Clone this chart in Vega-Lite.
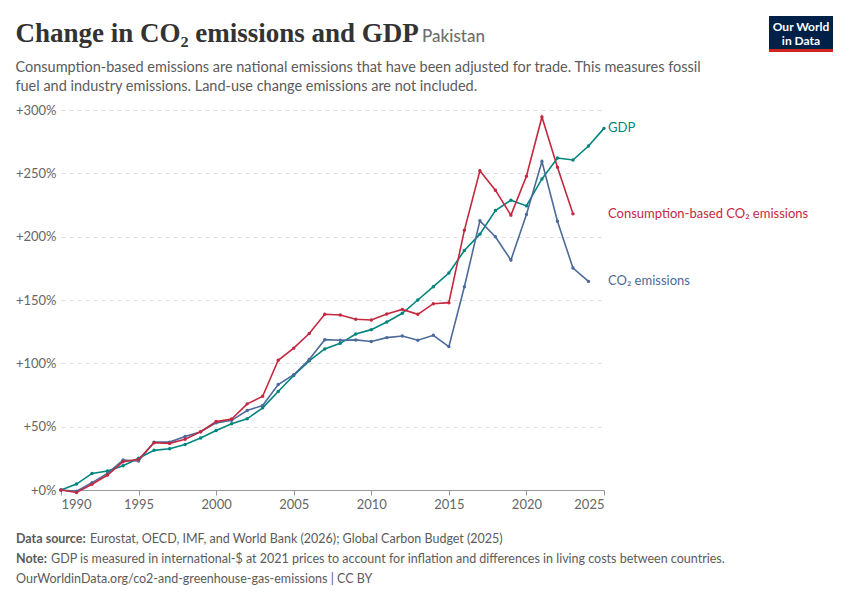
{
  "$schema": "https://vega.github.io/schema/vega-lite/v6.json",
  "width": 543,
  "height": 380,
  "autosize": "none",
  "padding": {"left": 61, "top": 110, "right": 246, "bottom": 110},
  "background": "white",
  "config": {
    "font": "Lato",
    "view": {"stroke": null}
  },
  "title": {
    "text": "Change in CO₂ emissions and GDP",
    "subtitle": [
      "Consumption-based emissions are national emissions that have been adjusted for trade. This measures fossil",
      "fuel and industry emissions. Land-use change emissions are not included."
    ],
    "anchor": "start",
    "frame": "bounds",
    "font": "Liberation Serif",
    "fontSize": 27,
    "fontWeight": "bold",
    "color": "#333333",
    "subtitleFont": "Lato",
    "subtitleFontSize": 14.5,
    "subtitleColor": "#5b5b5b",
    "subtitleLineHeight": 19,
    "subtitlePadding": 13,
    "offset": 0,
    "dy": 78
  },
  "datasets": {
    "emissions": [
      {"year": 1990, "series": "GDP", "value": 0},
      {"year": 1991, "series": "GDP", "value": 4.7},
      {"year": 1992, "series": "GDP", "value": 13.1},
      {"year": 1993, "series": "GDP", "value": 15},
      {"year": 1994, "series": "GDP", "value": 19.2},
      {"year": 1995, "series": "GDP", "value": 25},
      {"year": 1996, "series": "GDP", "value": 31.3},
      {"year": 1997, "series": "GDP", "value": 32.6},
      {"year": 1998, "series": "GDP", "value": 36},
      {"year": 1999, "series": "GDP", "value": 41},
      {"year": 2000, "series": "GDP", "value": 47},
      {"year": 2001, "series": "GDP", "value": 52.3},
      {"year": 2002, "series": "GDP", "value": 56.2},
      {"year": 2003, "series": "GDP", "value": 64.9},
      {"year": 2004, "series": "GDP", "value": 77.8},
      {"year": 2005, "series": "GDP", "value": 90.4},
      {"year": 2006, "series": "GDP", "value": 102},
      {"year": 2007, "series": "GDP", "value": 111.4},
      {"year": 2008, "series": "GDP", "value": 115.8},
      {"year": 2009, "series": "GDP", "value": 123.2},
      {"year": 2010, "series": "GDP", "value": 126.6},
      {"year": 2011, "series": "GDP", "value": 132.6},
      {"year": 2012, "series": "GDP", "value": 139.5},
      {"year": 2013, "series": "GDP", "value": 150},
      {"year": 2014, "series": "GDP", "value": 160.5},
      {"year": 2015, "series": "GDP", "value": 171.3},
      {"year": 2016, "series": "GDP", "value": 189.1},
      {"year": 2017, "series": "GDP", "value": 202},
      {"year": 2018, "series": "GDP", "value": 220.6},
      {"year": 2019, "series": "GDP", "value": 228.8},
      {"year": 2020, "series": "GDP", "value": 224.3},
      {"year": 2021, "series": "GDP", "value": 245.6},
      {"year": 2022, "series": "GDP", "value": 262.1},
      {"year": 2023, "series": "GDP", "value": 260.5},
      {"year": 2024, "series": "GDP", "value": 271.6},
      {"year": 2025, "series": "GDP", "value": 285.5},
      {"year": 1990, "series": "CO₂ emissions", "value": 0},
      {"year": 1991, "series": "CO₂ emissions", "value": -1},
      {"year": 1992, "series": "CO₂ emissions", "value": 5.8},
      {"year": 1993, "series": "CO₂ emissions", "value": 13.1},
      {"year": 1994, "series": "CO₂ emissions", "value": 23.6},
      {"year": 1995, "series": "CO₂ emissions", "value": 22.9},
      {"year": 1996, "series": "CO₂ emissions", "value": 37.8},
      {"year": 1997, "series": "CO₂ emissions", "value": 37.8},
      {"year": 1998, "series": "CO₂ emissions", "value": 42.3},
      {"year": 1999, "series": "CO₂ emissions", "value": 46},
      {"year": 2000, "series": "CO₂ emissions", "value": 53},
      {"year": 2001, "series": "CO₂ emissions", "value": 55},
      {"year": 2002, "series": "CO₂ emissions", "value": 62.8},
      {"year": 2003, "series": "CO₂ emissions", "value": 66.7},
      {"year": 2004, "series": "CO₂ emissions", "value": 83.3},
      {"year": 2005, "series": "CO₂ emissions", "value": 91},
      {"year": 2006, "series": "CO₂ emissions", "value": 103},
      {"year": 2007, "series": "CO₂ emissions", "value": 118.7},
      {"year": 2008, "series": "CO₂ emissions", "value": 118.2},
      {"year": 2009, "series": "CO₂ emissions", "value": 118.5},
      {"year": 2010, "series": "CO₂ emissions", "value": 117.2},
      {"year": 2011, "series": "CO₂ emissions", "value": 120.3},
      {"year": 2012, "series": "CO₂ emissions", "value": 121.6},
      {"year": 2013, "series": "CO₂ emissions", "value": 118.2},
      {"year": 2014, "series": "CO₂ emissions", "value": 122.1},
      {"year": 2015, "series": "CO₂ emissions", "value": 113.2},
      {"year": 2016, "series": "CO₂ emissions", "value": 160.5},
      {"year": 2017, "series": "CO₂ emissions", "value": 212.5},
      {"year": 2018, "series": "CO₂ emissions", "value": 199.9},
      {"year": 2019, "series": "CO₂ emissions", "value": 181.5},
      {"year": 2020, "series": "CO₂ emissions", "value": 217.5},
      {"year": 2021, "series": "CO₂ emissions", "value": 259.3},
      {"year": 2022, "series": "CO₂ emissions", "value": 212.2},
      {"year": 2023, "series": "CO₂ emissions", "value": 175.2},
      {"year": 2024, "series": "CO₂ emissions", "value": 164.7},
      {"year": 1990, "series": "Consumption-based CO₂ emissions", "value": 0},
      {"year": 1991, "series": "Consumption-based CO₂ emissions", "value": -2},
      {"year": 1992, "series": "Consumption-based CO₂ emissions", "value": 4.5},
      {"year": 1993, "series": "Consumption-based CO₂ emissions", "value": 11.8},
      {"year": 1994, "series": "Consumption-based CO₂ emissions", "value": 22.3},
      {"year": 1995, "series": "Consumption-based CO₂ emissions", "value": 24.2},
      {"year": 1996, "series": "Consumption-based CO₂ emissions", "value": 37.3},
      {"year": 1997, "series": "Consumption-based CO₂ emissions", "value": 36.8},
      {"year": 1998, "series": "Consumption-based CO₂ emissions", "value": 40},
      {"year": 1999, "series": "Consumption-based CO₂ emissions", "value": 46},
      {"year": 2000, "series": "Consumption-based CO₂ emissions", "value": 54},
      {"year": 2001, "series": "Consumption-based CO₂ emissions", "value": 56},
      {"year": 2002, "series": "Consumption-based CO₂ emissions", "value": 68},
      {"year": 2003, "series": "Consumption-based CO₂ emissions", "value": 74},
      {"year": 2004, "series": "Consumption-based CO₂ emissions", "value": 102.4},
      {"year": 2005, "series": "Consumption-based CO₂ emissions", "value": 112},
      {"year": 2006, "series": "Consumption-based CO₂ emissions", "value": 123.5},
      {"year": 2007, "series": "Consumption-based CO₂ emissions", "value": 138.7},
      {"year": 2008, "series": "Consumption-based CO₂ emissions", "value": 138.2},
      {"year": 2009, "series": "Consumption-based CO₂ emissions", "value": 134.8},
      {"year": 2010, "series": "Consumption-based CO₂ emissions", "value": 134.2},
      {"year": 2011, "series": "Consumption-based CO₂ emissions", "value": 139},
      {"year": 2012, "series": "Consumption-based CO₂ emissions", "value": 142.6},
      {"year": 2013, "series": "Consumption-based CO₂ emissions", "value": 138.7},
      {"year": 2014, "series": "Consumption-based CO₂ emissions", "value": 147.1},
      {"year": 2015, "series": "Consumption-based CO₂ emissions", "value": 147.9},
      {"year": 2016, "series": "Consumption-based CO₂ emissions", "value": 205},
      {"year": 2017, "series": "Consumption-based CO₂ emissions", "value": 252},
      {"year": 2018, "series": "Consumption-based CO₂ emissions", "value": 236.7},
      {"year": 2019, "series": "Consumption-based CO₂ emissions", "value": 217},
      {"year": 2020, "series": "Consumption-based CO₂ emissions", "value": 247.7},
      {"year": 2021, "series": "Consumption-based CO₂ emissions", "value": 294.5},
      {"year": 2022, "series": "Consumption-based CO₂ emissions", "value": 254.8},
      {"year": 2023, "series": "Consumption-based CO₂ emissions", "value": 218}
    ]
  },
  "layer": [
    {
      "data": {"name": "emissions"},
      "mark": {
        "type": "line",
        "strokeWidth": 1.6,
        "point": {"filled": true, "size": 12}
      },
      "encoding": {
        "x": {
          "field": "year",
          "type": "quantitative",
          "scale": {"domain": [1990, 2025], "nice": false, "zero": false},
          "axis": {
            "title": null,
            "values": [1990, 1995, 2000, 2005, 2010, 2015, 2020, 2025],
            "format": "d",
            "grid": false,
            "domainColor": "#999999",
            "tickColor": "#999999",
            "tickSize": 5,
            "labelColor": "#666666",
            "labelFontSize": 13,
            "labelPadding": 3,
            "labelFlush": true
          }
        },
        "y": {
          "field": "value",
          "type": "quantitative",
          "scale": {"domain": [0, 300], "nice": false},
          "axis": {
            "title": null,
            "values": [0, 50, 100, 150, 200, 250, 300],
            "labelExpr": "'+' + datum.value + '%'",
            "domain": false,
            "ticks": false,
            "gridColor": "#dddddd",
            "gridDash": [4, 4],
            "labelColor": "#666666",
            "labelFontSize": 13,
            "labelPadding": 5
          }
        },
        "color": {
          "field": "series",
          "type": "nominal",
          "scale": {
            "domain": ["GDP", "Consumption-based CO₂ emissions", "CO₂ emissions"],
            "range": ["#00847e", "#c4283f", "#4c6a9c"]
          },
          "legend": null
        }
      }
    },
    {
      "data": {"name": "emissions"},
      "transform": [
        {"joinaggregate": [{"op": "max", "field": "year", "as": "lastYear"}], "groupby": ["series"]},
        {"filter": "datum.year === datum.lastYear"}
      ],
      "mark": {"type": "text", "align": "left", "baseline": "middle", "dx": 4, "fontSize": 13},
      "encoding": {
        "x": {"datum": 2025, "type": "quantitative"},
        "y": {"field": "value", "type": "quantitative"},
        "text": {"field": "series"},
        "color": {"field": "series", "type": "nominal"}
      }
    },
    {
      "data": {"values": [{}]},
      "mark": {"type": "text", "text": "Pakistan", "x": 361, "y": -68, "align": "left", "baseline": "alphabetic", "fontSize": 17, "fontWeight": 500, "color": "#6e6e6e"}
    },
    {
      "data": {"values": [{}]},
      "mark": {"type": "rect", "x": 708, "x2": 772, "y": -94, "y2": -58, "color": "#002147"}
    },
    {
      "data": {"values": [{}]},
      "mark": {"type": "rect", "x": 708, "x2": 772, "y": -61, "y2": -58, "color": "#ce261e"}
    },
    {
      "data": {"values": [{}]},
      "mark": {"type": "text", "text": ["Our World", "in Data"], "x": 740, "y": -79, "align": "center", "baseline": "alphabetic", "lineHeight": 14, "fontSize": 12, "fontWeight": "bold", "color": "#ffffff"}
    },
    {
      "data": {"values": [{}]},
      "mark": {"type": "text", "text": "Data source:", "x": -45, "y": 429, "align": "left", "fontSize": 12.5, "fontWeight": "bold", "color": "#5b5b5b"}
    },
    {
      "data": {"values": [{}]},
      "mark": {"type": "text", "text": "Eurostat, OECD, IMF, and World Bank (2026); Global Carbon Budget (2025)", "x": 29, "y": 429, "align": "left", "fontSize": 12.5, "color": "#5b5b5b"}
    },
    {
      "data": {"values": [{}]},
      "mark": {"type": "text", "text": "Note:", "x": -45, "y": 449, "align": "left", "fontSize": 12.5, "fontWeight": "bold", "color": "#5b5b5b"}
    },
    {
      "data": {"values": [{}]},
      "mark": {"type": "text", "text": "GDP is measured in international-$ at 2021 prices to account for inflation and differences in living costs between countries.", "x": -10, "y": 449, "align": "left", "fontSize": 12.5, "color": "#5b5b5b"}
    },
    {
      "data": {"values": [{}]},
      "mark": {"type": "text", "text": "OurWorldinData.org/co2-and-greenhouse-gas-emissions | CC BY", "x": -45, "y": 469, "align": "left", "fontSize": 12.5, "color": "#5b5b5b"}
    }
  ]
}
